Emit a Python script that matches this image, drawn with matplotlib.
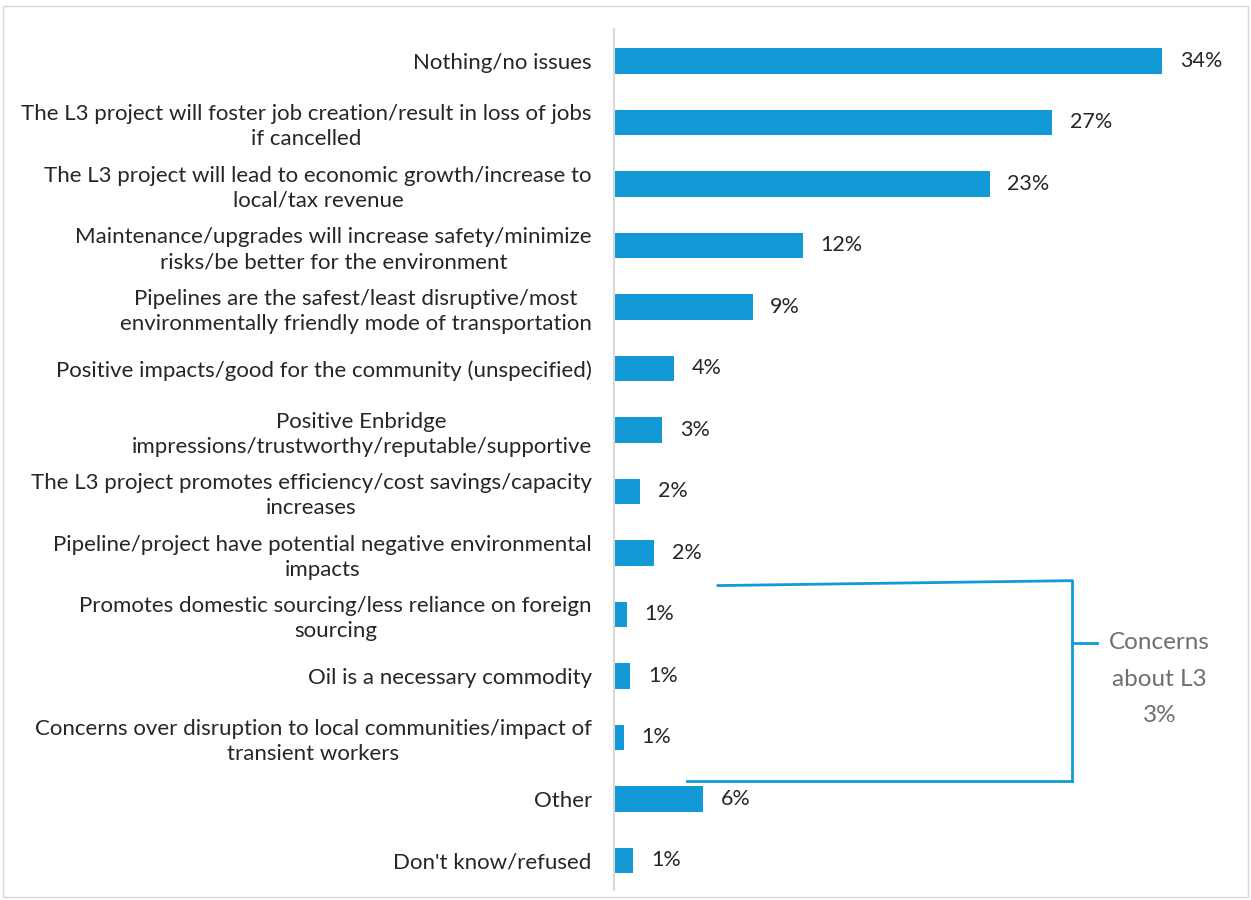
import matplotlib.pyplot as plt
from matplotlib.patches import Rectangle

plt.rcParams['font.family'] = ['Lato', 'DejaVu Sans']

categories = [
    "Nothing/no issues",
    "The L3 project will foster job creation/result in loss of jobs\nif cancelled",
    "The L3 project will lead to economic growth/increase to\nlocal/tax revenue",
    "Maintenance/upgrades will increase safety/minimize\nrisks/be better for the environment",
    "Pipelines are the safest/least disruptive/most\nenvironmentally friendly mode of transportation",
    "Positive impacts/good for the community (unspecified)",
    "Positive Enbridge\nimpressions/trustworthy/reputable/supportive",
    "The L3 project promotes efficiency/cost savings/capacity\nincreases",
    "Pipeline/project have potential negative environmental\nimpacts",
    "Promotes domestic sourcing/less reliance on foreign\nsourcing",
    "Oil is a necessary commodity",
    "Concerns over disruption to local communities/impact of\ntransient workers",
    "Other",
    "Don't know/refused",
]
values = [34.0, 27.2, 23.3, 11.7, 8.6, 3.7, 3.0, 1.6, 2.5, 0.8, 1.0, 0.6, 5.5, 1.2]
value_labels = ["34%", "27%", "23%", "12%", "9%", "4%", "3%", "2%", "2%",
                "1%", "1%", "1%", "6%", "1%"]

bracket_text = "Concerns\nabout L3\n3%"

bar_color = '#1299D6'
text_color = '#262626'

fig = plt.figure(figsize=(12.51, 9), dpi=100, facecolor='white')
ax = fig.add_axes([614 / 1251, 10 / 900, 626 / 1251, 861 / 900])

y = list(range(len(categories)))
ax.barh(y, values, height=0.41, color=bar_color, zorder=2)

ax.set_xlim(0, 626 / 16.12)
ax.set_ylim(13.48, -0.52)

# etiquetas de valor
for yi, v, lab in zip(y, values, value_labels):
    ax.text(v + 1.1, yi, lab, va='center', ha='left', fontsize=15.5, color=text_color)

ax.set_yticks(y)
ax.set_yticklabels(categories, fontsize=16, color=text_color, linespacing=1.3)
for lbl in ax.get_yticklabels():
    lbl.set_multialignment('center')
ax.tick_params(axis='y', length=0, pad=16)
ax.set_xticks([])

for s in ['top', 'right', 'bottom']:
    ax.spines[s].set_visible(False)
ax.spines['left'].set_color('#d9d9d9')
ax.spines['left'].set_linewidth(1.5)

# corchete de "Concerns about L3"
bx = 28.4
ax.plot([6.45, bx], [8.53, 8.45], color=bar_color, lw=2, clip_on=False)
ax.plot([bx, bx], [8.45, 11.71], color=bar_color, lw=2, clip_on=False)
ax.plot([4.5, bx], [11.71, 11.71], color=bar_color, lw=2, clip_on=False)
ax.plot([bx, bx + 1.55], [9.46, 9.46], color=bar_color, lw=2, clip_on=False)
ax.text(33.85, 10.05, bracket_text, ha='center', va='center', fontsize=17.5,
        color='#6e6e6e', linespacing=1.9)

# marco exterior
fig.patches.append(Rectangle((3 / 1251, 3 / 900), 1245 / 1251, 891 / 900,
                             transform=fig.transFigure, fill=False,
                             edgecolor='#d9d9d9', lw=1))

plt.savefig('out.png', dpi=100)
